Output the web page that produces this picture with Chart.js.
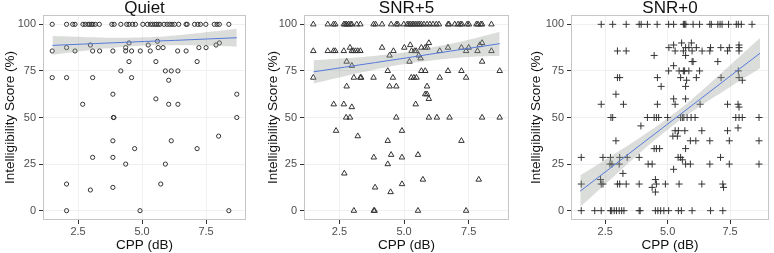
<!DOCTYPE html>
<html>
<head>
<meta charset="utf-8">
<script src="https://cdn.jsdelivr.net/npm/chart.js@4.4.1/dist/chart.umd.min.js"></script>
<style>
  html, body { margin: 0; padding: 0; background: #fff; }
  #wrap { position: relative; width: 774px; height: 253px; }
  .panel { position: absolute; top: 0; width: 258px; height: 253px; }
</style>
</head>
<body>
<div id="wrap">
  <div class="panel" style="left:0px"><canvas id="quietChart" width="258" height="253"></canvas></div>
  <div class="panel" style="left:258px"><canvas id="snr5Chart" width="258" height="253"></canvas></div>
  <div class="panel" style="left:516px"><canvas id="snr0Chart" width="258" height="253"></canvas></div>
</div>
<script>
const xTicks = [2.5, 5.0, 7.5];
const yTicks = [0, 25, 50, 75, 100];
const panelTitles = ['Quiet', 'SNR+5', 'SNR+0'];
const xTitle = 'CPP (dB)';
const yTitle = 'Intelligibility Score (%)';

// [CPP, score]
const quietPoints = [
    [1.49,100],[2.05,100],[2.29,100],[2.38,100],[2.69,100],[2.78,100],[2.89,100],[2.95,100],[3.02,100],[3.08,100],
    [3.17,100],[3.33,100],[3.82,100],[3.91,100],[4.17,100],[4.4,100],[4.49,100],[4.63,100],[4.74,100],[5.03,100],
    [5.21,100],[5.33,100],[5.41,100],[5.5,100],[5.56,100],[5.63,100],[5.7,100],[5.86,100],[5.98,100],[6.08,100],
    [6.17,100],[6.27,100],[6.43,100],[6.72,100],[6.76,100],[7.05,100],[7.18,100],[7.28,100],[7.49,100],[7.82,100],
    [7.93,100],[8.02,100],[8.39,100],
    [2.05,87.5],[2.98,88.9],[4.49,90],[5.24,88.9],[5.6,90.9],[4.36,87.5],[5.63,87.5],[5.82,87.5],[7.22,87.5],[7.5,87.5],
    [7.89,88.9],[8.02,90],
    [1.49,85.7],[2.38,85.7],[3.07,85.7],[3.34,85.7],[3.86,85.7],[4.36,85.7],[4.59,85.7],[4.93,85.7],[5.32,85.7],[6.39,85.7],
    [6.72,85.7],
    [4.49,80],[5.54,80],[7.15,80],
    [4.17,75],[5.91,75],[6.14,75],[6.4,75],
    [1.49,71.4],[2.05,71.4],[3.07,71.4],[4.59,71.4],[6.04,70],
    [3.86,62.5],[8.7,62.5],[5.54,60],
    [2.68,57.1],[6.04,57.1],[6.4,57.1],
    [3.88,50],[3.9,50],[8.7,50],
    [7.99,40],[3.86,37.5],[6.14,37.5],[4.71,33.3],[7.15,33.3],
    [3.07,28.6],[3.86,28.6],[4.36,25],[5.91,25],
    [2.05,14.3],[5.73,14.3],[3.86,12.5],[2.98,11.1],
    [2.05,0],[4.92,0],[8.39,0]
];

const snr5Points = [
    [1.49,100],[2.05,100],[2.27,100],[2.34,100],[2.67,100],[2.72,100],[2.78,100],[2.86,100],[2.93,100],[2.98,100],
    [3.17,100],[3.31,100],[3.82,100],[3.9,100],[4.15,100],[4.5,100],[4.7,100],[4.76,100],[4.99,100],[5.12,100],
    [5.19,100],[5.25,100],[5.32,100],[5.38,100],[5.46,100],[5.54,100],[5.6,100],[5.67,100],[5.77,100],[5.89,100],
    [6.0,100],[6.12,100],[6.25,100],[6.35,100],[6.7,100],[6.74,100],[6.96,100],[7.09,100],[7.18,100],[7.24,100],
    [7.44,100],[7.51,100],[7.8,100],[7.86,100],[7.97,100],[8.02,100],[8.38,100],
    [5.96,90],[8.02,90],[5.24,88.9],[7.93,88.9],
    [2.91,87.5],[4.15,87.5],[5.01,87.5],[5.67,87.5],[5.82,87.5],[5.9,87.5],[6.7,87.5],[7.22,87.5],[7.5,87.5],
    [1.49,85.7],[2.05,85.7],[2.27,85.7],[2.34,85.7],[2.67,85.7],[2.98,85.7],[3.04,85.7],[3.12,85.7],[3.21,85.7],[3.31,85.7],
    [4.59,85.7],[5.29,85.7],[5.41,85.7],[5.47,85.7],[6.38,85.7],[7.4,85.7],[7.84,85.7],[8.38,85.7],
    [4.44,83.3],[5.57,83.3],[5.64,81.8],
    [2.78,80],[5.21,80],[8.02,80],[2.98,77.8],
    [4.37,75],[5.67,75],[5.82,75],[6.7,75],[7.22,75],[8.7,75],
    [1.49,71.4],[3.06,71.4],[3.31,71.4],[3.34,71.4],[3.82,71.4],[4.57,71.4],[5.28,71.4],[5.38,71.4],[5.48,71.4],[6.38,71.4],
    [7.4,71.4],
    [2.78,66.7],[4.44,66.7],[4.7,66.7],[5.89,66.7],
    [5.82,62.5],[5.89,62.5],[5.96,60],
    [2.28,57.1],[2.67,57.1],[5.45,57.1],[2.98,55.6],
    [2.76,50],[2.91,50],[4.7,50],[5.96,50],[6.27,50],[6.76,50],[8.02,50],[8.7,50],
    [2.37,42.9],[4.92,42.9],[3.21,40],[4.37,37.5],[7.22,37.5],
    [4.5,30],[5.54,30],[3.83,28.6],[4.92,28.6],[4.37,25],
    [2.69,20],[5.73,16.7],[7.89,16.7],[4.92,14.3],[3.88,12.5],[4.48,10],
    [3.06,0],[3.83,0],[3.86,0],[5.54,0],[7.4,0]
];

const snr0Points = [
    [2.34,100],[2.8,100],[3.34,100],[3.86,100],[3.94,100],[4.19,100],[4.58,100],[5.04,100],[5.24,100],[5.63,100],
    [5.68,100],[5.73,100],[6.02,100],[6.28,100],[6.69,100],[6.75,100],[7.01,100],[7.1,100],[7.18,100],[7.44,100],
    [7.75,100],[7.83,100],[7.95,100],[8.38,100],
    [5.56,90],[5.95,90],[5.24,88.9],[7.86,88.9],
    [5.05,87.5],[5.72,87.5],[5.85,87.5],[6.15,87.5],[6.72,87.5],[7.13,87.5],[7.47,87.5],[7.86,87.5],
    [2.99,85.7],[3.34,85.7],[5.3,85.7],[5.63,85.7],[5.98,85.7],[6.38,85.7],[6.69,85.7],[7.4,85.7],[7.86,85.7],
    [4.46,83.3],[5.72,83.3],[5.98,80],[6.02,80],[7.01,80],[5.24,77.8],
    [5.04,75],[5.46,75],[5.63,75],[5.68,75],[5.85,75],[6.28,75],[7.83,75],
    [2.99,71.4],[3.08,71.4],[4.59,71.4],[5.52,71.4],[6.15,71.4],[7.14,71.4],[7.86,71.4],
    [5.76,70],[7.99,70],[4.74,66.7],[5.72,66.7],[2.93,62.5],[5.24,60],[5.72,60],
    [2.34,57.1],[3.23,57.1],[4.59,57.1],[5.3,57.1],[6.3,57.1],[7.4,57.1],[7.82,57.1],[7.86,55.6],
    [2.73,50],[2.8,50],[4.19,50],[4.46,50],[4.55,50],[4.64,50],[5.0,50],[5.52,50],[5.59,50],[5.65,50],
    [5.78,50],[5.94,50],[6.1,50],[7.73,50],[7.86,50],[7.99,50],[8.66,50],
    [3.93,45.5],[7.82,44.4],
    [5.3,42.9],[5.43,42.9],[5.69,42.9],[6.37,42.9],[7.4,42.9],[5.21,40],[5.39,40],
    [2.93,37.5],[5.91,37.5],[6.13,37.5],[6.69,37.5],[7.47,37.5],[8.66,37.5],
    [4.46,33.3],[4.55,33.3],[4.68,33.3],[5.72,33.3],
    [1.54,28.6],[2.41,28.6],[2.71,28.6],[3.08,28.6],[3.38,28.6],[3.86,28.6],[5.42,28.6],[5.52,28.6],[7.12,28.6],[5.59,27.3],
    [2.69,25],[2.77,25],[3.06,25],[4.22,25],[4.38,25],[5.72,25],[5.91,25],[6.69,25],[7.47,25],[8.66,25],
    [5.24,22.2],[3.21,20],[2.31,16.7],[4.51,16.7],
    [1.54,14.3],[2.34,14.3],[2.41,14.3],[2.99,14.3],[3.08,14.3],[3.34,14.3],[3.86,14.3],[4.55,14.3],[4.91,14.3],[5.46,14.3],
    [6.37,14.3],[7.21,14.3],
    [4.38,12.5],[7.24,12.5],[4.51,10],
    [1.54,0],[2.08,0],[2.34,0],[2.71,0],[2.76,0],[2.86,0],[2.95,0],[3.06,0],[3.16,0],[3.25,0],
    [3.86,0],[3.9,0],[4.51,0],[4.61,0],[4.72,0],[4.85,0],[5.04,0],[5.43,0],[5.55,0],[5.98,0],
    [6.72,0],[7.21,0]
];

// linear fits with their grey bands, read at a few CPP values
const fitCpp = [1.5, 2.7, 3.9, 5.1, 6.3, 7.5, 8.7];
const quietFit  = [88.7, 89.4, 90.1, 90.8, 91.4, 92.1, 92.8];
const quietLow  = [83.7, 85.7, 87.4, 88.6, 88.8, 88.5, 88.0];
const quietHigh = [93.7, 93.2, 92.8, 93.0, 94.0, 95.7, 97.6];
const snr5Fit  = [74.5, 77.0, 79.5, 82.0, 84.6, 87.1, 89.6];
const snr5Low  = [68.3, 72.2, 75.8, 78.8, 81.0, 82.5, 83.2];
const snr5High = [80.7, 81.8, 83.2, 85.2, 88.2, 91.7, 96.0];
const snr0Fit  = [10.5, 22.8, 35.2, 47.5, 59.8, 72.2, 84.5];
const snr0Low  = [2.0, 16.6, 31.1, 44.5, 56.0, 66.4, 76.4];
const snr0High = [19.0, 29.0, 39.3, 50.5, 63.6, 78.0, 92.6];

const fontFamily = "'Liberation Sans', Arial, sans-serif";
const markColor = '#333333';

const toXY = (xs, ys) => xs.map((x, i) => ({x, y: ys[i]}));

// panel border + title centred over the plot area
const panelDecor = {
    id: 'panelDecor',
    afterDraw(chart, args, opts) {
        const {ctx, chartArea: a} = chart;
        ctx.save();
        ctx.strokeStyle = '#c6c6c6';
        ctx.lineWidth = 1;
        ctx.strokeRect(a.left + 0.5, a.top + 0.5, a.right - a.left - 1, a.bottom - a.top - 1);
        ctx.fillStyle = '#111';
        ctx.font = '17px ' + fontFamily;
        ctx.textAlign = 'center';
        ctx.textBaseline = 'middle';
        ctx.fillText(opts.text, (a.left + a.right) / 2, 8);
        ctx.restore();
    }
};

function makePanel(canvasId, title, points, style, radius, fit, low, high, plotLeft, plotRight, yTitlePad) {
    const el = document.getElementById(canvasId);
    return new Chart(el, {
        type: 'scatter',
        data: {
            datasets: [{
                data: toXY(fitCpp, low),
                showLine: true,
                pointRadius: 0,
                borderWidth: 0,
                borderColor: 'rgba(0,0,0,0)',
                tension: 0.4,
                fill: false
            }, {
                data: toXY(fitCpp, high),
                showLine: true,
                pointRadius: 0,
                borderWidth: 0,
                borderColor: 'rgba(0,0,0,0)',
                backgroundColor: 'rgba(153,158,153,0.35)',
                tension: 0.4,
                fill: '-1'
            }, {
                data: toXY(fitCpp, fit),
                showLine: true,
                pointRadius: 0,
                borderWidth: 1,
                borderColor: '#3366ff'
            }, {
                data: points.map(([x, y]) => ({x, y})),
                pointStyle: style,
                pointRadius: radius,
                pointBorderWidth: 1,
                pointBorderColor: markColor,
                pointBackgroundColor: 'rgba(0,0,0,0)'
            }]
        },
        options: {
            responsive: false,
            animation: false,
            layout: {padding: {top: 15, right: 258 - plotRight, left: 0, bottom: 0}},
            plugins: {
                legend: {display: false},
                tooltip: {enabled: false},
                panelDecor: {text: title}
            },
            scales: {
                x: {
                    type: 'linear',
                    min: 1.13,
                    max: 9.06,
                    afterBuildTicks: s => { s.ticks = xTicks.map(v => ({value: v})); },
                    afterFit: s => { s.height = 33; },
                    ticks: {
                        callback: v => v.toFixed(1),
                        color: '#4d4d4d',
                        padding: 1,
                        maxRotation: 0,
                        font: {family: fontFamily, size: 11}
                    },
                    grid: {color: '#f0f0f0', tickColor: '#333', tickLength: 4},
                    border: {display: false},
                    title: {
                        display: true,
                        text: xTitle,
                        color: '#111',
                        padding: {top: 0, bottom: 0},
                        font: {family: fontFamily, size: 13.5}
                    }
                },
                y: {
                    min: -5,
                    max: 105,
                    afterBuildTicks: s => { s.ticks = yTicks.map(v => ({value: v})); },
                    afterFit: s => { s.width = plotLeft; },
                    ticks: {
                        color: '#4d4d4d',
                        padding: 3,
                        font: {family: fontFamily, size: 11}
                    },
                    grid: {color: '#f0f0f0', tickColor: '#333', tickLength: 4},
                    border: {display: false},
                    title: {
                        display: true,
                        text: yTitle,
                        color: '#111',
                        padding: {top: yTitlePad, bottom: 0},
                        font: {family: fontFamily, size: 13.5}
                    }
                }
            }
        },
        plugins: [panelDecor]
    });
}

makePanel('quietChart', panelTitles[0], quietPoints, 'circle', 2.1, quietFit, quietLow, quietHigh, 43, 246, 2);
makePanel('snr5Chart', panelTitles[1], snr5Points, 'triangle', 3.2, snr5Fit, snr5Low, snr5High, 46, 251, 7);
makePanel('snr0Chart', panelTitles[2], snr0Points, 'cross', 3.5, snr0Fit, snr0Low, snr0High, 55, 257, 12);
</script>
</body>
</html>
